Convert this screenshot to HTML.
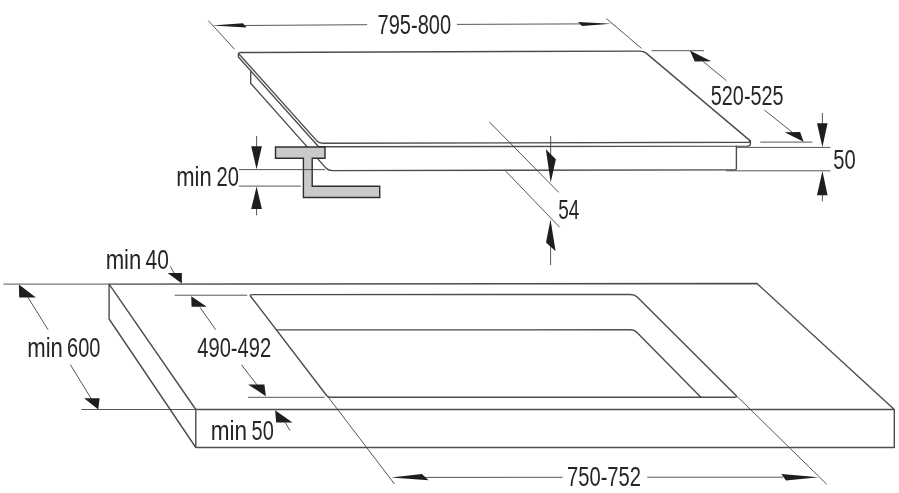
<!DOCTYPE html>
<html><head><meta charset="utf-8"><style>
html,body{margin:0;padding:0;background:#fff;width:899px;height:493px;overflow:hidden}
svg{display:block;will-change:transform}
text{font-family:"Liberation Sans",sans-serif;font-size:27.8px;fill:#262626}
.m{fill:none;stroke:#4c4c4c;stroke-width:1.4;stroke-linejoin:round;stroke-linecap:round}
.t{fill:none;stroke:#444;stroke-width:0.9}
.a{fill:#1e1e1e;stroke:none}
</style></head><body>
<svg width="899" height="493" viewBox="0 0 899 493">
<!-- ================= HOB ================= -->
<!-- body -->
<path class="m" d="M250.7,71.8 L250.7,83.3 L325.6,167.6 Q328.2,170.6 332.5,170.6 L735,169.9 Q736.4,169.9 736.4,168.5 L736.4,146.2"/>
<!-- glass top face -->
<path class="m" d="M240.2,52.5 L639.8,51.1 Q643.6,51.1 645.8,52.9 L750.3,140.9 L749.2,142.2 L748,142.3 L322.5,143.3 Q318.8,143.2 316.8,140.9 L239.2,54.2 Q238.6,52.6 240.2,52.5 Z"/>
<!-- glass thickness -->
<path class="m" d="M238.4,53.4 L238.4,57 L318.6,146.8 L747.5,146.1 Q750.4,146 750.4,143.8 L750.4,141"/>

<!-- bracket -->
<path d="M275.5,147 L325,147 L325,158.2 L312.2,158.2 L312.2,186.3 L379.7,186.3 L379.7,197.5 L303.4,197.5 L303.4,158.2 L275.5,158.2 Z" fill="#cacaca" stroke="#2e2e2e" stroke-width="1.4" stroke-linejoin="miter"/>

<!-- min 20 -->
<path class="t" d="M239,169.6 L325,169.6 M239,186.1 L300.8,186.1 M256.6,136 L256.6,150 M256.6,205 L256.6,215.3"/>
<path class="a" d="M251.2,146.2 L261.9,146.2 L256.6,169.2 Z M251.2,209.1 L261.9,209.1 L256.6,186.4 Z"/>
<text x="176.34" y="185.8" textLength="35.38" lengthAdjust="spacingAndGlyphs">min</text><text x="216.59" y="185.8" textLength="22.4" lengthAdjust="spacingAndGlyphs">20</text>

<!-- 795-800 -->
<path class="t" d="M208.2,20.5 L234.7,49.4 M606.4,18.6 L641.5,48.4 M244,25.5 L367.2,24.7 M457,24.4 L581,23.9"/>
<path class="a" d="M211.9,25.6 L242.9,23.2 L246.6,27.6 Z M611.4,23.7 L578,22 L582,26.1 Z"/>
<text x="377.6" y="34" textLength="73.5" lengthAdjust="spacingAndGlyphs">795-800</text>

<!-- 520-525 -->
<path class="t" d="M651.6,50.7 L704,50.7 M760.3,142.1 L812.3,142.1 M736.8,147.4 L830.5,147.4 M726,170.8 L830.5,170.8 M703,61.4 L726.4,80.6 M764.3,110 L792,132"/>
<path class="a" d="M689.9,50.6 L694.7,61.6 L711.2,61.3 Z M803.6,141.8 L784.5,132.2 L800.1,131.9 Z"/>
<text x="710.8" y="105" textLength="72.8" lengthAdjust="spacingAndGlyphs">520-525</text>

<!-- 50 -->
<path class="t" d="M822.4,113 L822.4,124 M822.4,194 L822.4,201.3"/>
<path class="a" d="M817,123.2 L827.6,123.2 L822.4,147 Z M817,195.2 L827.6,195.2 L822.4,171 Z"/>
<text x="833.2" y="169.2" textLength="22.4" lengthAdjust="spacingAndGlyphs">50</text>

<!-- 54 -->
<path class="t" d="M489.3,121.9 L558.7,192.3 M505.8,171.2 L559.7,227.3 M550.7,136 L550.7,165 M550.6,238 L550.6,265"/>
<path class="a" d="M545.8,149.2 L555.9,159.2 L550.7,182.5 Z M550.5,219.4 L546,242.5 L555.6,251.3 Z"/>
<text x="558.3" y="219" textLength="21.1" lengthAdjust="spacingAndGlyphs">54</text>

<!-- ================= COUNTERTOP ================= -->
<path class="m" d="M109.1,284.1 L757,283.5 L894.3,409.5 L894.3,447.5 L195.8,447.5 L109.1,319 Z M109.1,284.1 L195.8,409.5 L894.3,409.5 M195.8,409.5 L195.8,447.5"/>
<!-- cutout -->
<path class="m" d="M253.6,294.6 L630.5,294.5 Q634.8,294.5 637.2,297 L736,395.4 Q737.3,397.3 734.8,397.3 L330.5,397.3 Q328.1,397.3 326.8,395.7 L250.4,296 Q249.7,294.6 253.6,294.6 Z"/>
<path class="m" d="M276.7,329.9 L630,329.8 Q634.5,329.8 637,332.5 L700.9,397.3"/>

<!-- min 600 -->
<path class="t" d="M3.4,284.1 L109,284.1 M81.3,409.5 L195.8,409.5 M28,297.5 L48.1,329.8 M70.3,364.6 L91,398.3"/>
<path class="a" d="M18.9,284.5 L19.2,297.5 L35.9,297.5 Z M84.1,398.3 L99.6,398.3 L98.3,409.6 Z"/>
<text x="27.23" y="357" textLength="35.71" lengthAdjust="spacingAndGlyphs">min</text><text x="67.08" y="357" textLength="33.4" lengthAdjust="spacingAndGlyphs">600</text>

<!-- min 40 -->
<path class="t" d="M170.3,266.4 L174,273"/>
<path class="a" d="M167.5,273 L181.9,273 L181.9,283.6 Z"/>
<text x="105.63" y="268.8" textLength="35.71" lengthAdjust="spacingAndGlyphs">min</text><text x="145.52" y="268.8" textLength="23.3" lengthAdjust="spacingAndGlyphs">40</text>

<!-- 490-492 -->
<path class="t" d="M174.6,295.2 L247.2,295.2 M248.1,397.3 L324.6,397.3 M200.1,307.5 L215.7,329.7 M241.4,364.8 L257,384.9"/>
<path class="a" d="M191.2,296.3 L191.6,306.7 L206.8,306.7 Z M248.1,384.4 L264.4,384.4 L265.9,396.3 Z"/>
<text x="197.3" y="357" textLength="73.8" lengthAdjust="spacingAndGlyphs">490-492</text>

<!-- min 50 -->
<path class="t" d="M285.2,422.5 L290,430.6"/>
<path class="a" d="M275.1,410.3 L276.2,422.5 L292.5,422.5 Z"/>
<text x="210.81" y="439.8" textLength="36.26" lengthAdjust="spacingAndGlyphs">min</text><text x="251.6" y="439.8" textLength="22.18" lengthAdjust="spacingAndGlyphs">50</text>

<!-- 750-752 -->
<path class="t" d="M328.2,397.1 L394.5,484 M737.2,396.5 L826.6,484.1 M425,477.4 L562.5,477.3 M647.2,477.2 L783,477.2"/>
<path class="a" d="M390.8,477.4 L421.9,474 L428.5,480.2 Z M818.7,477.2 L781.3,474 L786,480.4 Z"/>
<text x="567" y="485.8" textLength="74" lengthAdjust="spacingAndGlyphs">750-752</text>
</svg>
</body></html>
